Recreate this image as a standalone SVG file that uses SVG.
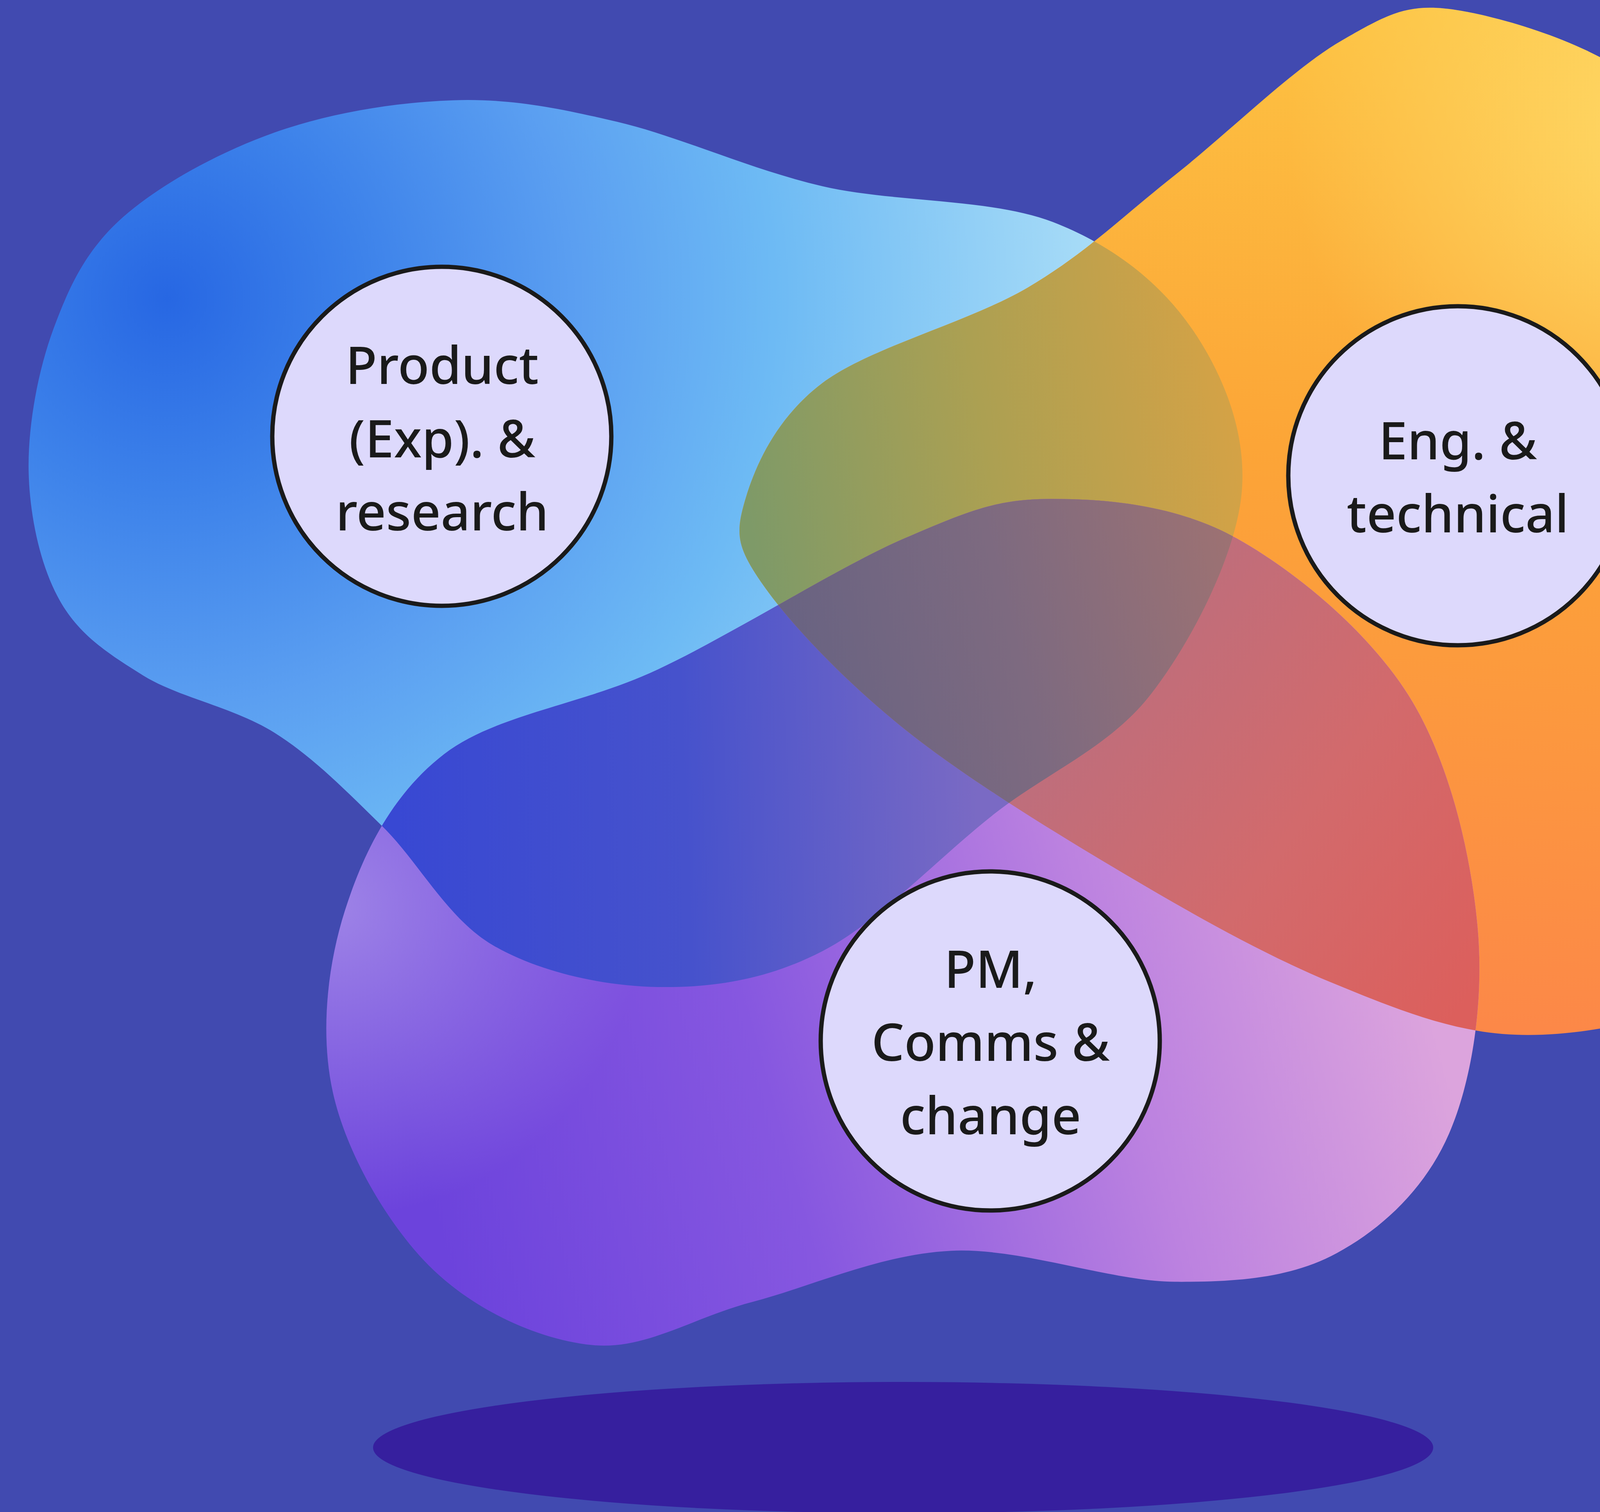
<svg xmlns="http://www.w3.org/2000/svg" xmlns:xlink="http://www.w3.org/1999/xlink" width="4791" height="3871" viewBox="0 0 4791 3871">
<style>
.lbl { font-family: "Noto Sans", "DejaVu Sans", sans-serif; font-size: 132px; font-weight: 500; fill: #1a1a1a; text-anchor: middle; }
.node-circle { fill: #DDD9FC; stroke: #1a1a1a; stroke-width: 11; }
</style>
<defs>
<path id="blueShape" d="M24,395 C23.2,357 31.8,310.5 45,275 C58.2,239.5 72.2,209.3 103,182 C133.8,154.7 183.8,127.3 230,111 C276.2,94.7 332.2,85.5 380,84 C427.8,82.5 465.5,90 517,102 C568.5,114 628.2,142 689,156 C749.8,170 830.3,166 882,186 C933.7,206 972.7,237.7 999,276 C1025.3,314.3 1045.8,365 1040,416 C1034.2,467 998.5,537.7 964,582 C929.5,626.3 878.8,646.2 833,682 C787.2,717.8 736,772.8 689,797 C642,821.2 597,827.8 551,827 C505,826.2 451.5,814.5 413,792 C374.5,769.5 350.5,721.7 320,692 C289.5,662.3 263.3,635 230,614 C196.7,593 150,584.5 120,566 C90,547.5 66,531.5 50,503 C34,474.5 24.8,433 24,395 Z"/>
<path id="orangeShape" d="M1224,9 C1267.5,16.5 1347.2,41 1385,79 C1422.8,117 1429.2,189.2 1451,237 C1472.8,284.8 1495.3,318.8 1516,366 C1536.7,413.2 1571.3,458.8 1575,520 C1578.7,581.2 1562.3,680.7 1538,733 C1513.7,785.3 1473.7,811.7 1429,834 C1384.3,856.3 1322.3,868.8 1270,867 C1217.7,865.2 1170,845.7 1115,823 C1060,800.3 999.5,766.3 940,731 C880.5,695.7 808,651 758,611 C708,571 662.3,522.8 640,491 C617.7,459.2 615.8,448.3 624,420 C632.2,391.7 649.5,350.8 689,321 C728.5,291.2 811.8,270 861,241 C910.2,212 940.2,181.5 984,147 C1027.8,112.5 1084,57 1124,34 C1164,11 1180.5,1.5 1224,9 Z"/>
<path id="purpleShape" d="M882,418 C928.3,418 986.2,423.3 1036,451 C1085.8,478.7 1147.3,529.7 1181,584 C1214.7,638.3 1232.5,716 1238,777 C1243.5,838 1233.7,904.5 1214,950 C1194.3,995.5 1158.3,1029.3 1120,1050 C1081.7,1070.7 1037.8,1074.3 984,1074 C930.2,1073.7 856,1045.2 797,1048 C738,1050.8 680.2,1077.8 630,1091 C579.8,1104.2 540.5,1131.5 496,1127 C451.5,1122.5 399,1098.5 363,1064 C327,1029.5 292.3,970.2 280,920 C267.7,869.8 273.7,811 289,763 C304.3,715 328.3,665.7 372,632 C415.7,598.3 486.7,591.2 551,561 C615.3,530.8 702.8,474.8 758,451 C813.2,427.2 835.7,418 882,418 Z"/>
<clipPath id="clipOrange" clipPathUnits="userSpaceOnUse"><use href="#orangeShape"/></clipPath>
<clipPath id="clipPurple" clipPathUnits="userSpaceOnUse"><use href="#purpleShape"/></clipPath>
<radialGradient id="gBlue" gradientUnits="userSpaceOnUse" cx="140" cy="250" r="820">
<stop offset="0" stop-color="#2767E3"/>
<stop offset="0.2" stop-color="#3D82EA"/>
<stop offset="0.42" stop-color="#5B9FF1"/>
<stop offset="0.62" stop-color="#6DBAF4"/>
<stop offset="0.95" stop-color="#A8DCF7"/>
</radialGradient>
<linearGradient id="gOrange" gradientUnits="userSpaceOnUse" x1="1300" y1="0" x2="1250" y2="860">
<stop offset="0" stop-color="#FDC443"/>
<stop offset="0.45" stop-color="#FCA537"/>
<stop offset="1" stop-color="#FC8848"/>
</linearGradient>
<radialGradient id="gOrangeHi" gradientUnits="userSpaceOnUse" cx="1400" cy="110" r="320">
<stop offset="0" stop-color="#FED866" stop-opacity="1"/>
<stop offset="1" stop-color="#FED866" stop-opacity="0"/>
</radialGradient>
<radialGradient id="gOrangeHi2" gradientUnits="userSpaceOnUse" cx="1570" cy="640" r="230">
<stop offset="0" stop-color="#FDAE6E" stop-opacity="0.9"/>
<stop offset="1" stop-color="#FDAE6E" stop-opacity="0"/>
</radialGradient>
<linearGradient id="gPurple" gradientUnits="userSpaceOnUse" x1="380" y1="1080" x2="1200" y2="850">
<stop offset="0" stop-color="#6C43DC"/>
<stop offset="0.35" stop-color="#8657E0"/>
<stop offset="0.7" stop-color="#BC82E0"/>
<stop offset="1" stop-color="#DCA4DD"/>
</linearGradient>
<radialGradient id="gPurpleHi" gradientUnits="userSpaceOnUse" cx="280" cy="760" r="260">
<stop offset="0" stop-color="#A38AE8" stop-opacity="0.9"/>
<stop offset="1" stop-color="#A38AE8" stop-opacity="0"/>
</radialGradient>
<linearGradient id="gBO" gradientUnits="userSpaceOnUse" x1="630" y1="450" x2="1040" y2="380">
<stop offset="0" stop-color="#7E9A68"/>
<stop offset="0.5" stop-color="#ACA052"/>
<stop offset="1" stop-color="#D4A246"/>
</linearGradient>
<linearGradient id="gBP" gradientUnits="userSpaceOnUse" x1="330" y1="720" x2="820" y2="700">
<stop offset="0" stop-color="#3848D3"/>
<stop offset="0.5" stop-color="#4652CC"/>
<stop offset="1" stop-color="#7A6AC4"/>
</linearGradient>
<linearGradient id="gOP" gradientUnits="userSpaceOnUse" x1="900" y1="600" x2="1230" y2="840">
<stop offset="0" stop-color="#BE6E7C"/>
<stop offset="0.5" stop-color="#D26A6C"/>
<stop offset="1" stop-color="#DC5F5C"/>
</linearGradient>
<linearGradient id="gT" gradientUnits="userSpaceOnUse" x1="640" y1="550" x2="1040" y2="450">
<stop offset="0" stop-color="#666282"/>
<stop offset="0.5" stop-color="#7D6A80"/>
<stop offset="1" stop-color="#9E7272"/>
</linearGradient>
</defs>

<rect id="background" x="0" y="0" width="4791" height="3871" fill="#414AB0"/>
<ellipse id="shadow" cx="2312" cy="3706" rx="1357" ry="168" fill="#361F9E"/>

<g id="blobs" transform="scale(3.0555)">
<g id="blob-product"><use href="#blueShape" fill="url(#gBlue)"/></g>
<g id="blob-eng"><use href="#orangeShape" fill="url(#gOrange)"/><use href="#orangeShape" fill="url(#gOrangeHi)"/><use href="#orangeShape" fill="url(#gOrangeHi2)"/></g>
<g id="blob-pm"><use href="#purpleShape" fill="url(#gPurple)"/><use href="#purpleShape" fill="url(#gPurpleHi)"/></g>
<g id="overlaps">
<use href="#blueShape" fill="url(#gBO)" clip-path="url(#clipOrange)"/>
<use href="#blueShape" fill="url(#gBP)" clip-path="url(#clipPurple)"/>
<use href="#orangeShape" fill="url(#gOP)" clip-path="url(#clipPurple)"/>
<g clip-path="url(#clipPurple)"><use href="#blueShape" fill="url(#gT)" clip-path="url(#clipOrange)"/></g>
</g>
</g>

<g id="connectors"></g>

<g id="node-product">
<circle class="node-circle" cx="1131" cy="1117" r="434"/>
<text class="lbl" x="1132" y="983">Product</text>
<text class="lbl" x="1132" y="1171">(Exp). &amp;</text>
<text class="lbl" x="1132" y="1358">research</text>
</g>
<g id="node-eng">
<circle class="node-circle" cx="3732" cy="1218" r="434"/>
<text class="lbl" x="3732" y="1176">Eng. &amp;</text>
<text class="lbl" x="3732" y="1363">technical</text>
</g>
<g id="node-pm">
<circle class="node-circle" cx="2535" cy="2665" r="434"/>
<text class="lbl" x="2536" y="2529">PM,</text>
<text class="lbl" x="2536" y="2716">Comms &amp;</text>
<text class="lbl" x="2536" y="2904">change</text>
</g>
</svg>
